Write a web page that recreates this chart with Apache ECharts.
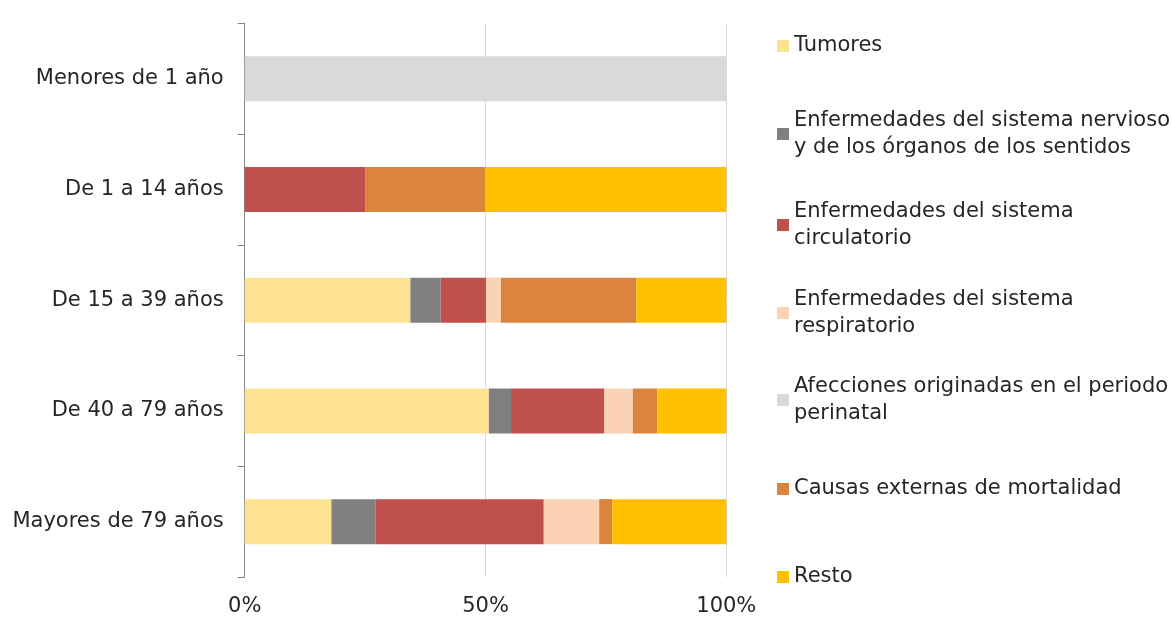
<!DOCTYPE html>
<html>
<head>
<meta charset="utf-8">
<script src="https://cdn.jsdelivr.net/npm/echarts@6/dist/echarts.min.js"></script>
<style>
  html, body { margin: 0; padding: 0; background: #fff; }
  #chart { width: 1172px; height: 617px; }
</style>
</head>
<body>
<div id="chart"></div>
<script>
const categories = ['Menores de 1 año', 'De 1 a 14 años', 'De 15 a 39 años', 'De 40 a 79 años', 'Mayores de 79 años'];
const xTicks = [0, 50, 100];

const seriesNames = [
  'Tumores',
  'Enfermedades del sistema nervioso\ny de los órganos de los sentidos',
  'Enfermedades del sistema\ncirculatorio',
  'Enfermedades del sistema\nrespiratorio',
  'Afecciones originadas en el periodo\nperinatal',
  'Causas externas de mortalidad',
  'Resto'
];
const seriesColors = ['#FDE291', '#808080', '#C0504D', '#FBD3B4', '#D9D9D9', '#DA843E', '#FFC000'];

const tumores    = [0,   0,  34.4, 50.7, 18.0];
const nervioso   = [0,   0,   6.3,  4.6,  9.2];
const circulat   = [0,  25,   9.4, 19.4, 34.9];
const respirat   = [0,   0,   3.1,  5.9, 11.5];
const perinatal  = [100, 0,   0,    0,    0  ];
const externas   = [0,  25,  28.1,  5.1,  2.7];
const resto      = [0,  50,  18.7, 14.3, 23.7];

const seriesValues = [tumores, nervioso, circulat, respirat, perinatal, externas, resto];

const FONT = 'DejaVu Sans';
const TEXT_COLOR = '#262626';
const legendCenters = [46, 134, 225, 313, 400, 489, 577];

const legends = seriesNames.map((name, i) => {
  const twoLines = name.indexOf('\n') >= 0;
  return {
    data: [name],
    left: 777,
    top: legendCenters[i] - (twoLines ? 40.5 : 13.5),
    orient: 'vertical',
    padding: 0,
    itemWidth: 12,
    itemHeight: 12,
    icon: 'rect',
    selectedMode: false,
    textStyle: {
      fontFamily: FONT,
      fontSize: 21,
      color: TEXT_COLOR,
      lineHeight: 27,
      padding: twoLines ? [27, 0, 0, 0] : 0
    }
  };
});

const chart = echarts.init(document.getElementById('chart'));
chart.setOption({
  animation: false,
  backgroundColor: '#fff',
  legend: legends,
  grid: { left: 244.7, right: 445.7, top: 23.3, bottom: 39.5, containLabel: false },
  xAxis: {
    type: 'value',
    min: xTicks[0],
    max: xTicks[xTicks.length - 1],
    interval: xTicks[1] - xTicks[0],
    axisLine: { show: false },
    axisTick: { show: false },
    splitLine: { show: true, lineStyle: { color: '#D9D9D9', width: 1 } },
    axisLabel: { formatter: '{value}%', margin: 19, fontFamily: FONT, fontSize: 21, color: TEXT_COLOR }
  },
  yAxis: {
    type: 'category',
    data: categories,
    inverse: true,
    axisLine: { show: true, lineStyle: { color: '#868686', width: 1 } },
    axisTick: { show: true, inside: false, alignWithLabel: false, length: 7, lineStyle: { color: '#868686', width: 1 } },
    axisLabel: { margin: 21, fontFamily: FONT, fontSize: 21, color: TEXT_COLOR }
  },
  series: seriesNames.map((name, i) => ({
    name: name,
    type: 'bar',
    stack: 'total',
    barWidth: 45,
    silent: true,
    itemStyle: { color: seriesColors[i] },
    data: seriesValues[i]
  }))
});
</script>
</body>
</html>
